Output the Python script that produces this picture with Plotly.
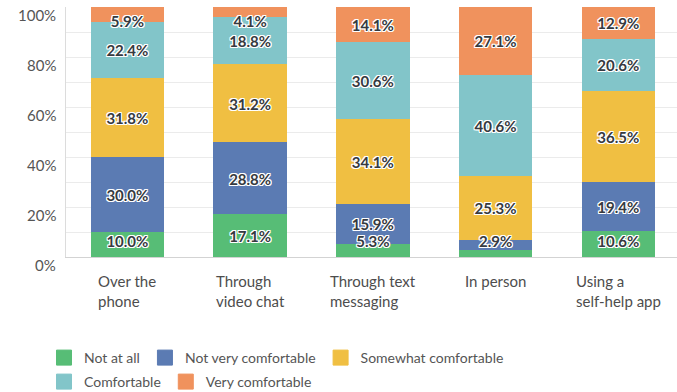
import plotly.graph_objects as go

categories = ["Over the<br>phone", "Through<br>video chat", "Through text<br>messaging",
              "In person", "Using a<br>self-help app"]
series_names = ["Not at all", "Not very comfortable", "Somewhat comfortable",
                "Comfortable", "Very comfortable"]
not_at_all = [10.0, 17.1, 5.3, 2.9, 10.6]
not_very = [30.0, 28.8, 15.9, 4.1, 19.4]
somewhat = [31.8, 31.2, 34.1, 25.3, 36.5]
comfortable = [22.4, 18.8, 30.6, 40.6, 20.6]
very = [5.9, 4.1, 14.1, 27.1, 12.9]
y_tick_vals = [0, 20, 40, 60, 80, 100]
y_tick_text = ["0%", "20%", "40%", "60%", "80%", "100%"]
hidden_labels = {("Not very comfortable", "In person")}

colors = ["#57bd76", "#5b7bb3", "#f0bf42", "#82c5c9", "#f0925d"]
series_vals = [not_at_all, not_very, somewhat, comfortable, very]

xs = list(range(len(categories)))
fig = go.Figure()

for i, (name, vals) in enumerate(zip(series_names, series_vals)):
    fig.add_trace(go.Bar(
        x=xs, y=vals, name=name, marker=dict(color=colors[i], line=dict(width=0)),
        showlegend=False, hoverinfo="skip",
    ))

# legend entries (16px square swatches)
for i, name in enumerate(series_names):
    fig.add_trace(go.Scatter(
        x=[None], y=[None], mode="markers", name=name,
        marker=dict(symbol="square", size=15, color=colors[i],
                    line=dict(width=1, color=colors[i])),
        legend="legend" if i < 3 else "legend2", hoverinfo="skip",
    ))

shadow = ", ".join(f"{dx}px {dy}px 0 #fff" for dx in (-1, 0, 1) for dy in (-1, 0, 1) if dx or dy)
base = [0.0] * len(categories)
for i, (name, vals) in enumerate(zip(series_names, series_vals)):
    ys, texts = [], []
    for j, v in enumerate(vals):
        mid = base[j] + v / 2
        ys.append(min(max(mid, 6.5), 94.5) - 1.0)
        cat_plain = categories[j].replace("<br>", " ")
        texts.append("" if (name, cat_plain) in hidden_labels else f"{v:.1f}%")
        base[j] += v
    fig.add_trace(go.Scatter(
        x=xs, y=ys, mode="text", text=texts, showlegend=False, hoverinfo="skip",
        cliponaxis=False,
        textfont=dict(family="Lato", size=15, weight=700, color="#363a40", shadow=shadow),
    ))

for j, c in enumerate(categories):
    fig.add_annotation(x=xs[j], y=-0.051, xref="x", yref="paper", text=c, showarrow=False,
                       xanchor="center", yanchor="top", align="left",
                       font=dict(family="Lato", size=15, color="#4d4d4d"))

for v, t in zip(y_tick_vals, y_tick_text):
    fig.add_annotation(x=0, y=v, xref="paper", yref="y", text=t, showarrow=False,
                       xanchor="right", yanchor="middle", xshift=-8, yshift=-8,
                       font=dict(family="Lato", size=15, color="#555555"))

legend_common = dict(orientation="h", xref="container", x=44 / 677, xanchor="left",
                     yref="container", yanchor="top", traceorder="normal",
                     font=dict(family="Lato", size=14, color="#555555"),
                     bgcolor="rgba(0,0,0,0)")

fig.update_layout(
    width=677, height=392, barmode="stack", bargap=0.4,
    margin=dict(l=66, r=0, t=7, b=135),
    plot_bgcolor="white", paper_bgcolor="white",
    xaxis=dict(range=[-0.5, 4.478], showticklabels=False, showgrid=False, showline=True,
               linecolor="#d3d3d3", linewidth=1, zeroline=False, fixedrange=True),
    yaxis=dict(range=[0, 100], tickvals=y_tick_vals, showticklabels=False,
               showgrid=True, gridcolor="#ebebeb", gridwidth=1,
               minor=dict(dtick=10, showgrid=True, gridcolor="#ebebeb", gridwidth=1),
               showline=True, linecolor="#dcdcdc", linewidth=1, zeroline=False, ticks=""),
    legend=dict(y=1 - 342 / 392, **legend_common),
    legend2=dict(y=1 - 366 / 392, **legend_common),
    showlegend=True,
)

fig.write_html("out.html")
